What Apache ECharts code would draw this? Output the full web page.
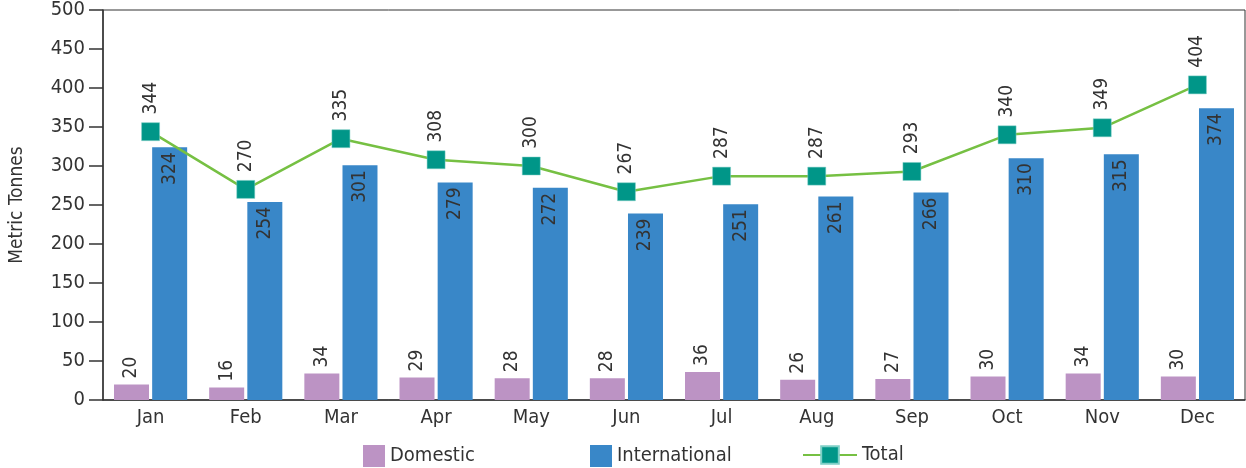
<!DOCTYPE html>
<html>
<head>
<meta charset="utf-8">
<script src="https://cdn.jsdelivr.net/npm/echarts@6/dist/echarts.min.js"></script>
<style>
  html, body { margin: 0; padding: 0; background: #fff; }
  #chart { width: 1246px; height: 468px; }
</style>
</head>
<body>
<div id="chart"></div>
<script>
var months = ["Jan", "Feb", "Mar", "Apr", "May", "Jun", "Jul", "Aug", "Sep", "Oct", "Nov", "Dec"];
var domestic = [20, 16, 34, 29, 28, 28, 36, 26, 27, 30, 34, 30];
var international = [324, 254, 301, 279, 272, 239, 251, 261, 266, 310, 315, 374];
var total = [344, 270, 335, 308, 300, 267, 287, 287, 293, 340, 349, 404];

var font = '"Liberation Sans Narrow", "DejaVu Sans Condensed", sans-serif';
var txt = "#333";

var myChart = echarts.init(document.getElementById("chart"));

var legendBase = {
  top: 440,
  itemWidth: 22,
  itemHeight: 22,
  itemGap: 10,
  icon: "rect",
  textStyle: { fontFamily: font, fontSize: 20, color: txt },
  selectedMode: false
};

var option = {
  animation: false,
  grid: {
    left: 100, right: 1, top: 10, bottom: 68,
    show: true, borderColor: "#333", borderWidth: 1
  },
  legend: [
    Object.assign({}, legendBase, { left: 358, data: ["Domestic"] }),
    Object.assign({}, legendBase, { left: 585, data: ["International"] }),
    Object.assign({}, legendBase, { left: 797, itemWidth: 54, icon: null, data: ["Total"] })
  ],
  xAxis: {
    type: "category",
    data: months,
    axisLine: { lineStyle: { color: "#333", width: 1.5 } },
    axisTick: { length: 14, lineStyle: { color: "#333", width: 1.5 } },
    axisLabel: { fontFamily: font, fontSize: 20, color: txt, margin: 8 }
  },
  yAxis: {
    type: "value",
    min: 0, max: 500, interval: 50,
    name: "Metric Tonnes",
    nameLocation: "middle",
    nameGap: 76,
    nameTextStyle: { fontFamily: font, fontSize: 19, color: txt },
    axisLine: { show: true, lineStyle: { color: "#333", width: 1.5 } },
    axisTick: { show: true, length: 14, lineStyle: { color: "#333", width: 1.5 } },
    axisLabel: { fontFamily: font, fontSize: 20, color: txt, margin: 18 },
    splitLine: { show: false }
  },
  series: [
    {
      name: "Domestic",
      type: "bar",
      data: domestic,
      barWidth: 35,
      barGap: "9%",
      itemStyle: { color: "#bc93c4" },
      label: {
        show: true, position: "top", rotate: 90, align: "left", verticalAlign: "middle",
        distance: 6, fontFamily: font, fontSize: 19, color: txt
      }
    },
    {
      name: "International",
      type: "bar",
      data: international,
      barWidth: 35,
      itemStyle: { color: "#3987c8" },
      label: {
        show: true, position: "insideTop", rotate: 90, align: "right", verticalAlign: "middle",
        distance: 5, fontFamily: font, fontSize: 19, color: txt
      }
    },
    {
      name: "Total",
      type: "line",
      data: total,
      symbol: "rect",
      symbolSize: 18,
      z: 5,
      lineStyle: { color: "#76c043", width: 2.5 },
      itemStyle: { color: "#009688", borderColor: "#7fcfc6", borderWidth: 0.5 },
      label: {
        show: true, position: "top", rotate: 90, align: "left", verticalAlign: "middle",
        distance: 8, fontFamily: font, fontSize: 19, color: txt
      }
    }
  ]
};

option && myChart.setOption(option);
</script>
</body>
</html>
